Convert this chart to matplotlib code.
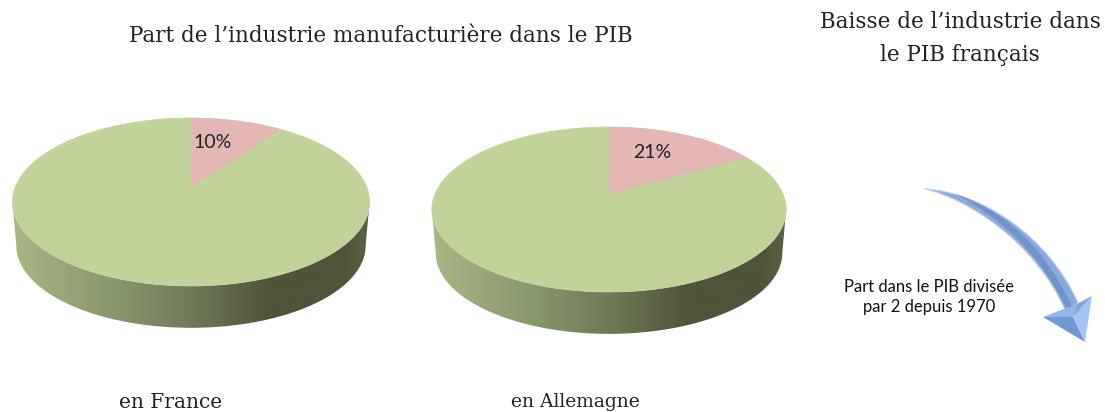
import numpy as np
import matplotlib
matplotlib.use('Agg')
import matplotlib.pyplot as plt
from matplotlib.colors import LinearSegmentedColormap
from matplotlib.patches import PathPatch, Polygon
from matplotlib.path import Path

countries = ['en France', 'en Allemagne']
# drawn slice share, the label is what is printed on it
slice_share = [10, 16.7]
slice_labels = ['10%', '21%']

GREEN = '#c2d39a'
PINK = '#e4b7b6'
SERIF = ['DejaVu Serif']
SANS = ['Lato', 'DejaVu Sans']

side_cmap = LinearSegmentedColormap.from_list('side', [
    (0, '#a9b685'), (0.3, '#87956b'), (0.5, '#6f7a56'),
    (0.72, '#4f543a'), (0.93, '#4f543a'), (1, '#5c6246')])

fig = plt.figure(figsize=(11.05, 4.12), dpi=100)
ax = fig.add_axes([0, 0, 1, 1])
ax.set_xlim(0, 1105)
ax.set_ylim(412, 0)
ax.axis('off')


def rim(theta, cx, cy, a, b, k):
    d = 1 + k * np.cos(theta)
    return cx + a * np.sin(theta) / d, cy - b * np.cos(theta) / d


def draw_pie(share, label, cx, cy, a, b, k, depth, label_xy):
    # side band, from widest point to widest point, gradient clipped to it
    t0 = np.arccos(-k)
    t = np.linspace(t0, 2 * np.pi - t0, 200)
    xt, yt = rim(t, cx, cy, a, b, k)
    xb, yb = rim(t[::-1], cx, cy + depth, a * 0.978, b * 0.978, k)
    band = Polygon(np.column_stack([np.r_[xt, xb], np.r_[yt, yb]]), closed=True,
                   fc='none', ec='none', transform=ax.transData)
    ax.add_patch(band)
    grad = ax.imshow(np.linspace(0, 1, 256)[None, :], cmap=side_cmap, aspect='auto',
                     extent=(xt.min(), xt.max(), yb.max(), yt.min()), zorder=1)
    grad.set_clip_path(band)

    # top face
    t = np.linspace(0, 2 * np.pi, 400)
    x, y = rim(t, cx, cy, a, b, k)
    ax.fill(x, y, fc=GREEN, ec=GREEN, lw=0.5, zorder=2)
    t = np.linspace(0, 2 * np.pi * share / 100, 80)
    x, y = rim(t, cx, cy, a, b, k)
    ax.fill(np.r_[cx, x], np.r_[cy, y], fc=PINK, ec='none', zorder=3)
    ax.text(label_xy[0], label_xy[1], label, fontsize=14, family=SANS, color='#222222',
            ha='center', va='center', zorder=4)


draw_pie(slice_share[0], slice_labels[0], 191, 187, 175.7, 81.3, 0.1786, 44, (213, 143))
draw_pie(slice_share[1], slice_labels[1], 609, 194, 174, 79.6, 0.188, 44, (652, 152))

# titles
ax.text(381, 36, 'Part de l’industrie manufacturière dans le PIB', fontsize=15.5,
        family=SERIF, color='#222222', ha='center', va='center')
ax.text(960, 22, 'Baisse de l’industrie dans', fontsize=15.5, family=SERIF,
        color='#222222', ha='center', va='center')
ax.text(960, 55, 'le PIB français', fontsize=15.5, family=SERIF,
        color='#222222', ha='center', va='center')
ax.text(171, 402, countries[0], fontsize=14.5, family=SERIF, color='#222222',
        ha='center', va='center')
ax.text(575, 402, countries[1], fontsize=13.5, family=SERIF, color='#222222',
        ha='center', va='center')
ax.text(929, 287, 'Part dans le PIB divisée', fontsize=12, family=SANS, color='#111111',
        ha='center', va='center')
ax.text(929, 307, 'par 2 depuis 1970', fontsize=12, family=SANS, color='#111111',
        ha='center', va='center')

# curved arrow, built from a few flat facets
C4 = Path.CURVE4
shaft = Path([(925, 189), (980, 192), (1048, 235), (1078, 303), (1066, 312),
              (1035, 240), (965, 198), (925, 189)],
             [Path.MOVETO, C4, C4, C4, Path.LINETO, C4, C4, C4])
ax.add_patch(PathPatch(shaft, fc='#8baadb', ec='#bdd0ec', lw=0.8, zorder=2))
shaft_mid = Path([(955, 194), (1000, 208), (1044, 245), (1072, 307), (1068, 312),
                  (1040, 252), (998, 216), (955, 194)],
                 [Path.MOVETO, C4, C4, C4, Path.LINETO, C4, C4, C4])
ax.add_patch(PathPatch(shaft_mid, fc='#7093cb', ec='none', zorder=3))
ax.add_patch(Polygon([(1043, 317), (1073, 317), (1085, 342)], fc='#6f97d4', ec='none', zorder=4))
ax.add_patch(Polygon([(1043, 317), (1073, 317), (1077, 304)], fc='#93b6e8', ec='none', zorder=4))
ax.add_patch(Polygon([(1073, 317), (1092, 296), (1085, 342)], fc='#a5c6f5', ec='none', zorder=4))
ax.add_patch(Polygon([(1073, 317), (1092, 296), (1077, 304)], fc='#7fa4dc', ec='none', zorder=4))

ax.set_xlim(0, 1105)
ax.set_ylim(412, 0)
fig.savefig('out.png', dpi=100)
